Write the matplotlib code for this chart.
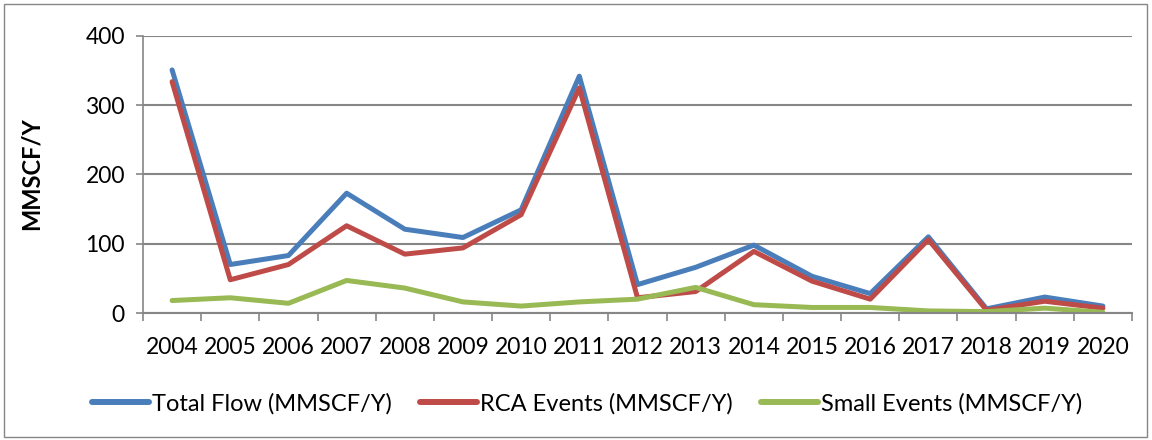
import matplotlib
matplotlib.use("Agg")
import matplotlib.pyplot as plt
from matplotlib.patches import Rectangle

years = ["2004", "2005", "2006", "2007", "2008", "2009", "2010", "2011", "2012",
         "2013", "2014", "2015", "2016", "2017", "2018", "2019", "2020"]
total_flow = [351, 70, 83, 173, 121, 109, 149, 342, 41, 66, 98, 53, 28, 110, 6, 23, 10]
rca_events = [334, 48, 70, 126, 85, 94, 142, 325, 22, 31, 89, 46, 20, 106, 4, 17, 7]
small_events = [18, 22, 14, 47, 36, 16, 10, 16, 20, 37, 12, 8, 8, 3, 2, 7, 1]
series_names = ["Total Flow (MMSCF/Y)", "RCA Events (MMSCF/Y)", "Small Events (MMSCF/Y)"]
colors = ["#4A7EBB", "#BE4B48", "#98B954"]
y_ticks = [0, 100, 200, 300, 400]

plt.rcParams['font.family'] = ['Lato', 'DejaVu Sans']

W, H, DPI = 1152, 440, 100
fig = plt.figure(figsize=(W / DPI, H / DPI), dpi=DPI)
ax = fig.add_axes([143 / W, 1 - 313 / H, (1132 - 143) / W, (313 - 36) / H])

x = list(range(len(years)))
for vals, name, c in zip([total_flow, rca_events, small_events], series_names, colors):
    ax.plot(x, vals, color=c, lw=3.6, label=name, solid_joinstyle='round', solid_capstyle='round')

ax.set_xlim(-0.5, len(years) - 0.5)
ax.set_ylim(0, 400)
ax.set_yticks(y_ticks)
ax.set_yticklabels([str(v) for v in y_ticks])
ax.set_xticks(x)
ax.set_xticklabels(years)
ax.set_xticks([i - 0.5 for i in range(len(years) + 1)], minor=True)
ax.tick_params(axis='x', which='major', length=0, pad=17, labelsize=16.5)
ax.tick_params(axis='x', which='minor', length=5.5, width=1.2, color='#868686', direction='out')
ax.tick_params(axis='y', which='major', length=5, width=1.2, color='#868686', pad=8, labelsize=16.5)
ax.grid(axis='y', color='#868686', lw=1.5)
ax.set_axisbelow(True)
for s in ['top', 'right']:
    ax.spines[s].set_visible(False)
ax.spines['left'].set_color('#868686')
ax.spines['left'].set_linewidth(1.2)
ax.spines['bottom'].set_color('#868686')
ax.spines['bottom'].set_linewidth(1.5)

fig.text(31 / W, 1 - 174 / H, "MMSCF/Y", rotation=90, ha='center', va='center',
         fontsize=17, fontweight='bold')

leg = fig.legend(loc='center', bbox_to_anchor=(587 / W, 1 - 404 / H), ncol=3, frameon=False,
                 fontsize=17, handlelength=2.4, handletextpad=0.13, columnspacing=1.2,
                 borderpad=0, borderaxespad=0)
for line in leg.get_lines():
    line.set_linewidth(4.3)

fig.patches.append(Rectangle((4 / W, 3 / H), 1143 / W, 433 / H, transform=fig.transFigure,
                             fill=False, edgecolor='#868686', lw=1))

fig.savefig("out.png", dpi=DPI)
